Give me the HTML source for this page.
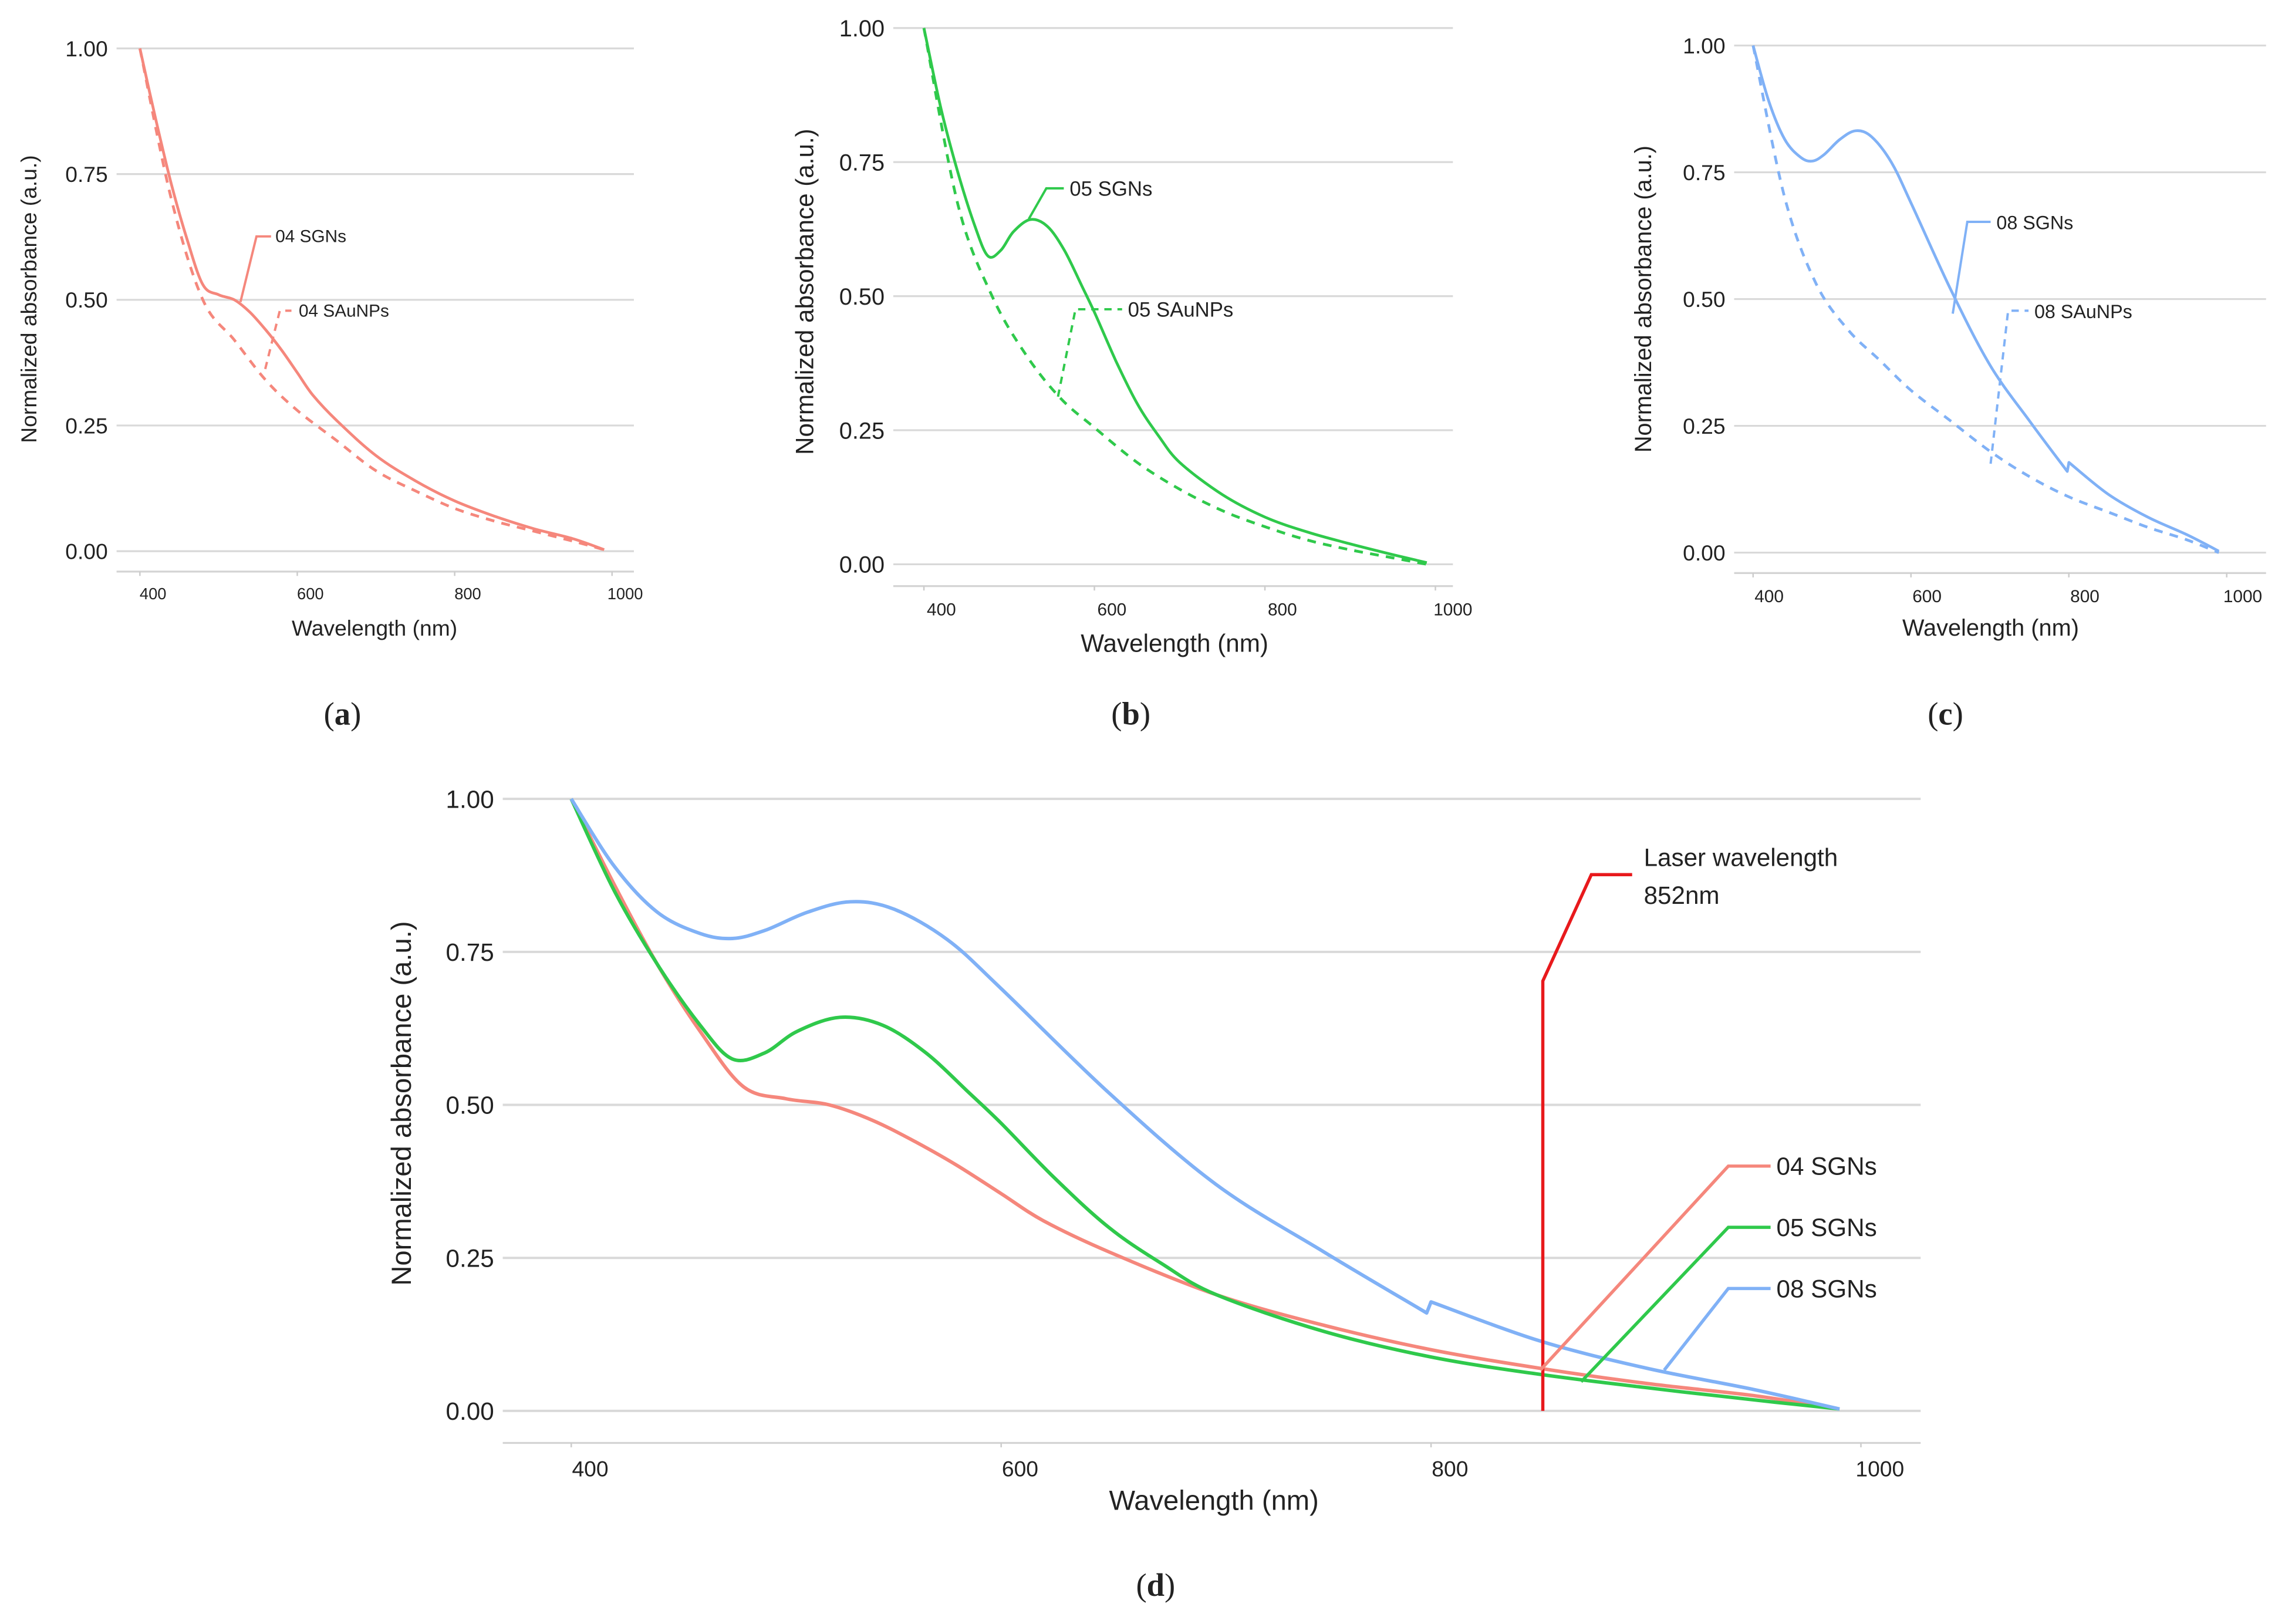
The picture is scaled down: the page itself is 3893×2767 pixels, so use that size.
<!DOCTYPE html>
<html><head><meta charset="utf-8"><style>
html,body{margin:0;padding:0;background:#fff}
svg{display:block}
text{font-family:"Liberation Sans",Arial,sans-serif;fill:#222}
</style></head><body>
<svg id="fig" width="3893" height="2767" viewBox="0 0 1568 1114" xmlns="http://www.w3.org/2000/svg"></svg>
<script>
const nm04 = [400,420,440,460,480,500,520,540,560,580,600,620,650,700,750,800,850,900,950,990];
const sgn04 = [1.0,0.86,0.73,0.62,0.53,0.51,0.50,0.475,0.44,0.40,0.355,0.31,0.26,0.19,0.14,0.10,0.07,0.045,0.025,0.003];
const nm05 = [400,420,440,460,475,490,505,525,545,565,585,600,625,650,675,700,750,800,850,900,950,990];
const sgn05 = [1.0,0.85,0.73,0.63,0.575,0.585,0.62,0.643,0.63,0.585,0.52,0.47,0.38,0.30,0.24,0.19,0.13,0.088,0.06,0.038,0.018,0.003];
const nm08 = [400,420,440,460,475,490,510,530,550,575,600,650,700,750,798,800,850,900,950,990];
const sgn08 = [1.0,0.89,0.815,0.78,0.772,0.785,0.815,0.832,0.82,0.77,0.69,0.52,0.37,0.26,0.16,0.178,0.115,0.07,0.035,0.003];
const nmAu = [400,440,480,520,560,600,650,700,750,800,850,900,950,990];
const au04 = [1.0,0.70,0.50,0.42,0.34,0.28,0.22,0.16,0.12,0.085,0.06,0.04,0.02,0.003];
const au05 = [1.0,0.67,0.50,0.39,0.31,0.255,0.19,0.14,0.10,0.07,0.045,0.027,0.012,0.0];
const au08 = [1.0,0.70,0.53,0.44,0.38,0.32,0.26,0.20,0.15,0.11,0.08,0.05,0.025,0.0];
const yTicks = [0,0.25,0.5,0.75,1.0];
const yTickLabels = ["0.00","0.25","0.50","0.75","1.00"];
const xTicks = [400,600,800,1000];
const laserNm = [852];

const RED="#f5877c", GREEN="#2fc94b", BLUE="#80b1f6";
const svg=document.getElementById('fig');
const NS="http://www.w3.org/2000/svg";
function mk(tag,attrs,parent){const e=document.createElementNS(NS,tag);for(const k in attrs)e.setAttribute(k,attrs[k]);(parent||svg).appendChild(e);return e;}

function smoothPath(P){
  // split at near-vertical steps
  const segs=[[P[0]]];
  for(let i=1;i<P.length;i++){
    if(Math.abs(P[i][0]-P[i-1][0])<3) segs.push([P[i]]); else segs[segs.length-1].push(P[i]);
  }
  let d='';
  segs.forEach((S,si)=>{
    d+=(si===0?'M':'L')+S[0][0].toFixed(1)+','+S[0][1].toFixed(1);
    for(let i=0;i<S.length-1;i++){
      const p0=S[i-1]||S[i],p1=S[i],p2=S[i+1],p3=S[i+2]||S[i+1];
      const c1=[p1[0]+(p2[0]-p0[0])/6,p1[1]+(p2[1]-p0[1])/6];
      const c2=[p2[0]-(p3[0]-p1[0])/6,p2[1]-(p3[1]-p1[1])/6];
      d+=`C${c1[0].toFixed(1)},${c1[1].toFixed(1)} ${c2[0].toFixed(1)},${c2[1].toFixed(1)} ${p2[0].toFixed(1)},${p2[1].toFixed(1)}`;
    }
  });
  return d;
}

function panel(cfg){
  const g=mk('g',{});
  
  
  const X=v=>cfg.x0+(v-400)/600*(cfg.x1-cfg.x0);
  const Y=v=>cfg.y0-v*(cfg.y0-cfg.y1);
  yTicks.forEach((t,i)=>{
    const l=mk('line',{x1:cfg.gx0,x2:cfg.gx1,y1:Y(t),y2:Y(t),stroke:'#d9d9d9','stroke-width':cfg.big?1.6:1.3},g);
    
    
    const tx=mk('text',{x:cfg.gx0-6,y:Y(t)+cfg.fs*0.36,'text-anchor':'end','font-size':cfg.fs},g);
    tx.textContent=yTickLabels[i];
    
    
  });
  const ax=mk('line',{x1:cfg.gx0,x2:cfg.gx1,y1:cfg.axy,y2:cfg.axy,stroke:'#d4d4d4','stroke-width':1.3},g);
  
  
  xTicks.forEach(t=>{
    mk('line',{x1:X(t),x2:X(t),y1:cfg.axy,y2:cfg.axy+3,stroke:'#ccc'},g);
    const tx=mk('text',{x:X(t)+cfg.tdx,y:cfg.axy+cfg.xfs+8,'text-anchor':'middle','font-size':cfg.xfs},g);
    tx.textContent=t;
    
    
  });
  const xt=mk('text',{x:cfg.xtx,y:cfg.xty,'text-anchor':'middle','font-size':cfg.tfs},g);
  xt.textContent='Wavelength (nm)';
  
  
  const yt=mk('text',{x:0,y:0,'text-anchor':'middle','font-size':cfg.tfs,transform:`translate(${cfg.ytx},${cfg.yty}) rotate(-90)`},g);
  yt.textContent='Normalized absorbance (a.u.)';
  
  
  cfg.series.forEach(s=>{
    const P=s.nm.map((n,i)=>[X(n),Y(s.v[i])]);
    const p=mk('path',{d:smoothPath(P),fill:'none',stroke:s.c,'stroke-width':cfg.big?2.4:1.9,'stroke-dasharray':s.dash?'6,5':'none','stroke-linejoin':'round'},g);
    
    
  });
  cfg.labels.forEach(L=>{
    const p=mk('polyline',{points:L.pts.map(q=>q.join(',')).join(' '),fill:'none',stroke:L.c,'stroke-width':L.w||1.6,'stroke-dasharray':L.dash?'5,4':'none'},g);
    
    
    L.text.forEach((t,i)=>{
      const tx=mk('text',{x:L.tx,y:L.ty+i*(L.lh||0),'font-size':L.fs},g);
      tx.textContent=t;
      
      
    });
  });
  const cap=mk('text',{x:cfg.capx,y:cfg.capy,'text-anchor':'middle','font-size':22,style:'font-family:"Liberation Serif",serif'},g);
  cap.innerHTML='(<tspan font-weight="bold">'+cfg.cap+'</tspan>)';
  
  
}

panel({name:'panel-a',x0:96,x1:420,y0:378,y1:33,gx0:80,gx1:435,axy:392,fs:15,xfs:11,tfs:15,tdx:9,
  xtx:257,xty:436,ytx:25,yty:205,capx:235,capy:497,cap:'a',
  series:[{nm:nmAu,v:au04,c:RED,dash:true,name:'04-sauNPs-line'},{nm:nm04,v:sgn04,c:RED,name:'04-sgns-line'}],
  labels:[{pts:[[165,207],[176,162],[186,162]],c:RED,tx:189,ty:166,fs:12,text:['04 SGNs']},
          {pts:[[182,253],[192,213],[200,213]],c:RED,dash:true,tx:205,ty:217,fs:12,text:['04 SAuNPs']}]});
panel({name:'panel-b',x0:634,x1:985,y0:387,y1:19,gx0:613,gx1:997,axy:402,fs:16,xfs:12,tfs:17,tdx:12,
  xtx:806,xty:447,ytx:558,yty:200,capx:776,capy:497,cap:'b',
  series:[{nm:nmAu,v:au05,c:GREEN,dash:true,name:'05-sauNPs-line'},{nm:nm05,v:sgn05,c:GREEN,name:'05-sgns-line'}],
  labels:[{pts:[[706,150],[718,129],[730,129]],c:GREEN,tx:734,ty:134,fs:14,text:['05 SGNs']},
          {pts:[[726,272],[738,212],[770,212]],c:GREEN,dash:true,tx:774,ty:217,fs:14,text:['05 SAuNPs']}]});
panel({name:'panel-c',x0:1203,x1:1528,y0:379,y1:31,gx0:1190,gx1:1555,axy:393,fs:15,xfs:12,tfs:16,tdx:11,
  xtx:1366,xty:436,ytx:1133,yty:205,capx:1335,capy:497,cap:'c',
  series:[{nm:nmAu,v:au08,c:BLUE,dash:true,name:'08-sauNPs-line'},{nm:nm08,v:sgn08,c:BLUE,name:'08-sgns-line'}],
  labels:[{pts:[[1340,215],[1350,152],[1366,152]],c:BLUE,tx:1370,ty:157,fs:13,text:['08 SGNs']},
          {pts:[[1366,318],[1378,213],[1392,213]],c:BLUE,dash:true,tx:1396,ty:218,fs:13,text:['08 SAuNPs']}]});
const dx=v=>392+(v-400)/600*(1277-392);
panel({name:'panel-d',x0:392,x1:1277,y0:968,y1:548,gx0:345,gx1:1318,axy:990,fs:17,xfs:15,tfs:19,tdx:13,big:true,
  xtx:833,xty:1036,ytx:282,yty:757,capx:793,capy:1095,cap:'d',
  series:[{nm:nm04,v:sgn04,c:RED,name:'04-sgns-line'},{nm:nm05,v:sgn05,c:GREEN,name:'05-sgns-line'},{nm:nm08,v:sgn08,c:BLUE,name:'08-sgns-line'}],
  labels:[{pts:[[dx(laserNm[0]),968],[dx(laserNm[0]),673],[1092,600],[1120,600]],c:'#e8191c',w:2.2,tx:1128,ty:594,lh:26,fs:17,text:['Laser wavelength','852nm']},
          {pts:[[1057,940],[1186,800],[1215,800]],c:RED,w:2.2,tx:1219,ty:806,fs:17,text:['04 SGNs']},
          {pts:[[1085,948],[1186,842],[1215,842]],c:GREEN,w:2.2,tx:1219,ty:848,fs:17,text:['05 SGNs']},
          {pts:[[1142,940],[1186,884],[1215,884]],c:BLUE,w:2.2,tx:1219,ty:890,fs:17,text:['08 SGNs']}]});
</script>
</body></html>
